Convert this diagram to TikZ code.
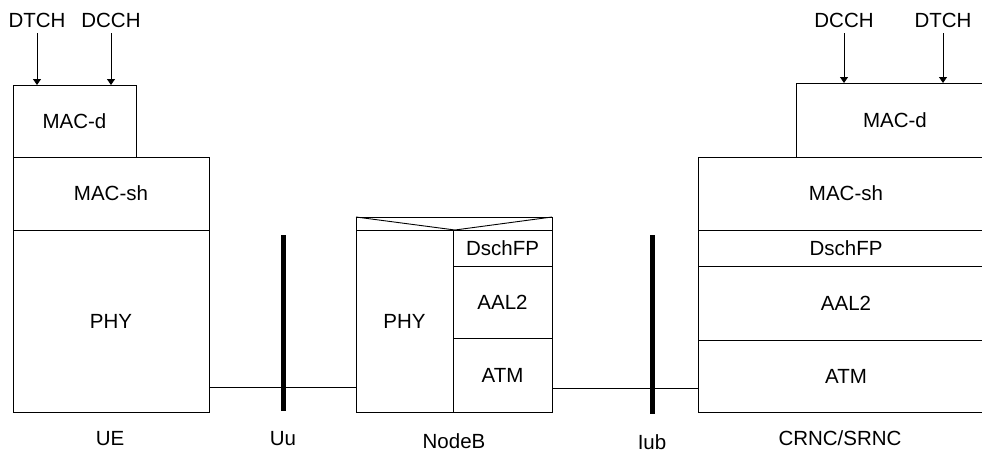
\documentclass[tikz,border=0pt]{standalone}
\usepackage{fontspec}
\setmainfont{Liberation Sans}
\usetikzlibrary{arrows.meta,calc}
\begin{document}
\begin{tikzpicture}[x=1pt,y=-1pt,
  layer/.style={draw, rectangle, inner sep=0pt, outer sep=0pt, anchor=north west, line width=0.9pt, font=\fontsize{20.5}{24}\selectfont},
  lbl/.style={inner sep=5pt, anchor=base, font=\fontsize{20.5}{24}\selectfont},
  arr/.style={-{Triangle[width=8pt,length=6pt]}, line width=0.9pt},
  iface/.style={line width=5pt},
  link/.style={line width=0.9pt}]
\useasboundingbox (0,0) rectangle (982,452);
\clip (0,0) rectangle (982,452);
% UE
\node[layer, minimum width=123, minimum height=72] (uemacd) at (13,85) {MAC-d};
\node[layer, minimum width=196, minimum height=73] (uemacsh) at (13,157) {MAC-sh};
\node[layer, minimum width=196, minimum height=182] (uephy) at (13,230) {PHY};
\node[lbl] (uedtch) at (37,28) {DTCH};
\node[lbl] (uedcch) at (111,28) {DCCH};
\draw[arr] (uedtch.south) -- (uedtch.south |- uemacd.north);
\draw[arr] (uedcch.south) -- (uedcch.south |- uemacd.north);
\node[lbl] (uelbl) at (110,445) {UE};
% Uu
\coordinate (uutop) at (283,235);
\coordinate (uubot) at (283,411);
\draw[iface] (uutop) -- (uubot);
\node[lbl] (uulbl) at (283,445) {Uu};
% NodeB
\node[layer, minimum width=196, minimum height=13] (nbtop) at (356,217) {};
\node[layer, minimum width=97, minimum height=182] (nbphy) at (356,230) {PHY};
\node[layer, minimum width=99, minimum height=36] (nbfp) at (453,230) {DschFP};
\node[layer, minimum width=99, minimum height=72] (nbaal) at (453,266) {AAL2};
\node[layer, minimum width=99, minimum height=74] (nbatm) at (453,338) {ATM};
\draw[line width=0.9pt] (nbtop.north west) -- ($(nbtop.south west)!0.505!(nbtop.south east)$) -- (nbtop.north east);
\node[lbl] (nblbl) at (454,448) {NodeB};
% Iub
\coordinate (iubtop) at (652,235);
\coordinate (iubbot) at (652,414);
\draw[iface] (iubtop) -- (iubbot);
\node[lbl] (iublbl) at (652,449) {Iub};
% CRNC
\node[layer, minimum width=198, minimum height=74] (rmacd) at (796,83) {MAC-d};
\node[layer, minimum width=296, minimum height=73] (rmacsh) at (698,157) {MAC-sh};
\node[layer, minimum width=296, minimum height=36] (rfp) at (698,230) {DschFP};
\node[layer, minimum width=296, minimum height=74] (raal) at (698,266) {AAL2};
\node[layer, minimum width=296, minimum height=72] (ratm) at (698,340) {ATM};
\node[lbl] (rdcch) at (844,28) {DCCH};
\node[lbl] (rdtch) at (943,28) {DTCH};
\draw[arr] (rdcch.south) -- (rdcch.south |- rmacd.north);
\draw[arr] (rdtch.south) -- (rdtch.south |- rmacd.north);
\node[lbl] (rlbl) at (840,445) {CRNC/SRNC};
% links
\draw[link] ($(uephy.south east)+(0,-25)$) -- ($(nbphy.south west)+(0,-25)$);
\draw[link] ($(nbatm.south east)+(0,-24)$) -- ($(ratm.south west)+(0,-24)$);
\end{tikzpicture}
\end{document}
